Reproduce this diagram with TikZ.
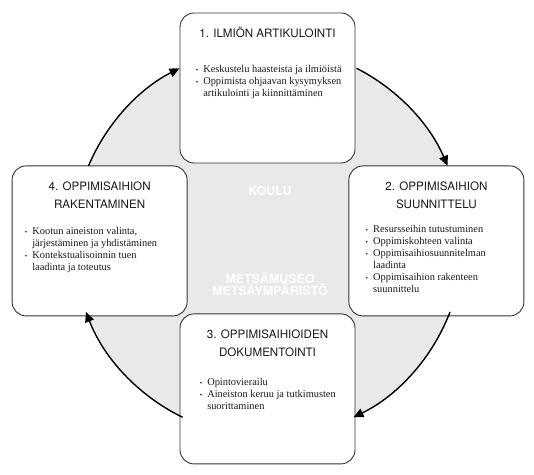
\documentclass[tikz,border=0pt]{standalone}
\usepackage{fontspec}
\setmainfont{Liberation Serif}
\newfontfamily\headfont{TeX Gyre Heros}
\usepackage{tikz}
\usetikzlibrary{arrows.meta,positioning}
\definecolor{ringgrey}{HTML}{E9E9E9}
\definecolor{boxline}{HTML}{333333}
\definecolor{darktext}{HTML}{1A1A1A}
\newcommand{\bul}{\makebox[7.5pt][l]{\raisebox{0.6pt}{\scriptsize\textbullet}}}
\newcommand{\cont}{\hspace*{7.5pt}}

\begin{document}
\begin{tikzpicture}[
    x=1pt, y=1pt,
    stage/.style={
        draw=boxline,
        line width=0.9pt,
        rounded corners=14pt,
        fill=white,
        minimum width=175pt,
        minimum height=150pt,
        inner sep=0pt
    },
    phase/.style={
        font=\headfont\fontsize{11.6}{18}\selectfont,
        text=darktext,
        align=center,
        inner sep=0pt
    },
    notes/.style={
        font=\fontsize{10.4}{12}\selectfont,
        text=darktext,
        align=left,
        inner sep=0pt
    },
    place/.style={
        font=\headfont\bfseries\fontsize{12.5}{12}\selectfont,
        text=white,
        align=center,
        inner sep=0pt
    },
    flow/.style={-{Triangle[length=10pt,width=9pt]}, line width=1.4pt, draw=black}
]
    \useasboundingbox (0,0) rectangle (534,474);
    \node[circle, fill=ringgrey, minimum size=390pt, inner sep=0pt,
        outer sep=0pt] (ring) at (268,232) {};

    \node[stage] (b1) at (267.5,386) {};
    \node[stage, below right=2pt and -7pt of b1.south east] (b2) {};
    \node[stage, below left=2pt and -8pt of b1.south west] (b4) {};
    \node[stage, below=150pt of b1] (b3) {};

    \node[phase, below=14pt of b1.north] (t1) {1. ILMIÖN ARTIKULOINTI};
    \node[phase, below=16pt of b2.north] (t2) {2. OPPIMISAIHION\\
        SUUNNITTELU};
    \node[phase, below=16pt of b3.north] (t3) {3. OPPIMISAIHIOIDEN\\
        DOKUMENTOINTI};
    \node[phase, below=16pt of b4.north] (t4) {4. OPPIMISAIHION\\
        RAKENTAMINEN};

    \node[notes, below right=53pt and 16pt of b1.north west] (n1)
        {\bul Keskustelu haasteista ja ilmiöistä\\
        \bul Oppimista ohjaavan kysymyksen\\
        \cont artikulointi ja kiinnittäminen};
    \node[notes, below right=60pt and 17pt of b2.north west] (n2)
        {\bul Resursseihin tutustuminen\\
        \bul Oppimiskohteen valinta\\
        \bul Oppimisaihiosuunnitelman\\
        \cont laadinta\\
        \bul Oppimisaihion rakenteen\\
        \cont suunnittelu};
    \node[notes, below right=65pt and 20pt of b3.north west] (n3)
        {\bul Opintovierailu\\
        \bul Aineiston keruu ja tutkimusten\\
        \cont suorittaminen};
    \node[notes, below right=62pt and 13pt of b4.north west] (n4)
        {\bul Kootun aineiston valinta,\\
        \cont järjestäminen ja yhdistäminen\\
        \bul Kontekstualisoinnin tuen\\
        \cont laadinta ja toteutus};

    \node[place] (school) at (270,283) {KOULU};
    \node[place] (forest) at (270,190) {METSÄMUSEO\\METSÄYMPÄRISTÖ};

    \draw[flow] (ring.63) arc[start angle=63, end angle=23, radius=195];
    \draw[flow] (ring.339) arc[start angle=339, end angle=296, radius=195];
    \draw[flow] (ring.244) arc[start angle=244, end angle=201, radius=195];
    \draw[flow] (ring.157) arc[start angle=157, end angle=117, radius=195];
\end{tikzpicture}
\end{document}
